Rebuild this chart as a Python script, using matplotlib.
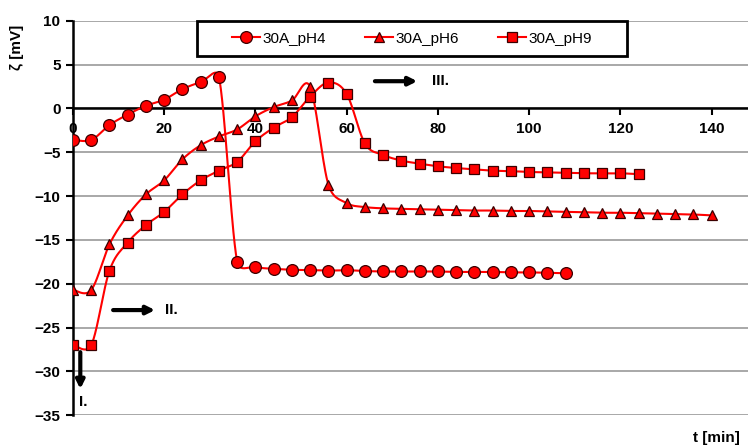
#!/usr/bin/env python3
"""Zeta potential vs time for the 30A samples at pH 4, 6 and 9."""

import matplotlib
matplotlib.use("Agg")
import matplotlib.pyplot as plt
from matplotlib.patches import Rectangle
import numpy as np

plt.rcParams['font.family'] = ['Liberation Sans', 'DejaVu Sans']

# time axis [min]
t_ph4 = np.arange(0, 109, 4)
t_ph6 = np.arange(0, 141, 4)
t_ph9 = np.arange(0, 125, 4)

zeta_ph4 = [-3.6, -3.6, -1.9, -0.7, 0.3, 1.0, 2.2, 3.0, 3.6,
            -17.5, -18.1, -18.3, -18.4, -18.45, -18.5, -18.45, -18.55, -18.6,
            -18.6, -18.6, -18.6, -18.65, -18.65, -18.65, -18.7, -18.7, -18.75, -18.8]
zeta_ph6 = [-20.7, -20.7, -15.5, -12.2, -9.8, -8.2, -5.8, -4.2, -3.2, -2.4,
            -0.9, 0.15, 0.9, 2.45, -8.7, -10.8, -11.25, -11.4, -11.45, -11.5,
            -11.55, -11.6, -11.65, -11.65, -11.7, -11.7, -11.75, -11.8, -11.85,
            -11.9, -11.9, -11.95, -12.0, -12.05, -12.1, -12.2]
zeta_ph9 = [-27.0, -27.0, -18.5, -15.3, -13.3, -11.8, -9.8, -8.2, -7.1, -6.1,
            -3.75, -2.2, -1.0, 1.35, 2.95, 1.65, -4.0, -5.3, -5.95, -6.3, -6.6,
            -6.8, -6.95, -7.1, -7.15, -7.25, -7.3, -7.35, -7.4, -7.4, -7.4, -7.5]

labels = ['30A_pH4', '30A_pH6', '30A_pH9']
markers = ['o', '^', 's']
msizes = [8.5, 6.5, 7.5]

# rough pixel scale of the axes, used to keep the smoothing in screen space
PX_X, PX_Y = 4.56, 8.8


def smooth(x, y, n=30):
    """Bezier curve through the points, tangents limited like Excel smoothing."""
    pts = np.column_stack([np.asarray(x) * PX_X, np.asarray(y) * PX_Y]).astype(float)
    pad = np.vstack([pts[0], pts, pts[-1]])
    s = np.linspace(0, 1, n)[:, None]
    out = []
    for i in range(1, len(pad) - 2):
        p0, p1, p2, p3 = pad[i - 1], pad[i], pad[i + 1], pad[i + 2]
        seg_len = np.hypot(*(p2 - p1))
        v1 = (p2 - p0) / 6.0
        v2 = (p3 - p1) / 6.0
        for v in (v1, v2):
            ln = np.hypot(*v)
            if ln > 0.6 * seg_len and ln > 0:
                v *= 0.6 * seg_len / ln
        c1 = p1 + v1
        c2 = p2 - v2
        seg = ((1 - s) ** 3 * p1 + 3 * (1 - s) ** 2 * s * c1
               + 3 * (1 - s) * s ** 2 * c2 + s ** 3 * p2)
        out.append(seg)
    out = np.vstack(out)
    return out[:, 0] / PX_X, out[:, 1] / PX_Y


fig = plt.figure(figsize=(7.48, 4.46), dpi=100)
ax = fig.add_axes([73 / 748, 30.7 / 446, 1 - 73 / 748, 394.6 / 446])

series = [(t_ph4, zeta_ph4), (t_ph6, zeta_ph6), (t_ph9, zeta_ph9)]
for (t, z), lab, mk, ms in zip(series, labels, markers, msizes):
    sx, sy = smooth(t, z)
    ax.plot(sx, sy, color='#ff0000', lw=1.5, zorder=3)
    ax.plot(t, z, ls='none', marker=mk, ms=ms, mfc='#ff0000', mec='#3a0000',
            mew=0.9, zorder=4)
    ax.plot([], [], color='#ff0000', lw=1.5, marker=mk, ms=ms, mfc='#ff0000',
            mec='#3a0000', mew=0.9, label=lab)

ax.set_xlim(0, 148)
ax.set_ylim(-35, 10)
ax.set_xticks(np.arange(0, 141, 20))
ax.set_yticks(np.arange(-35, 11, 5))
ax.yaxis.grid(True, color='#a8a8a8', lw=1.4)
ax.set_axisbelow(True)

for side in ['top', 'right']:
    ax.spines[side].set_visible(False)
ax.spines['bottom'].set_position(('data', 0))
ax.spines['bottom'].set_linewidth(1.8)
ax.spines['left'].set_linewidth(1.8)
ax.spines['bottom'].set_zorder(2)
ax.tick_params(axis='y', direction='out', length=5, width=1.5, pad=4)
ax.tick_params(axis='x', direction='out', length=5, width=1.5, pad=5)
for lbl in ax.get_xticklabels() + ax.get_yticklabels():
    lbl.set_fontweight('bold')
    lbl.set_fontsize(11)

# phase annotations
arrow = dict(arrowstyle='-|>', color='black', lw=3, mutation_scale=12,
             shrinkA=0, shrinkB=0)
ax.annotate('', xy=(75.5, 3.1), xytext=(66.2, 3.1), arrowprops=arrow)
ax.text(78.7, 3.1, 'III.', fontsize=11, fontweight='bold', va='center')
ax.annotate('', xy=(18.0, -23.0), xytext=(8.8, -23.0), arrowprops=arrow)
ax.text(20.2, -23.0, 'II.', fontsize=11, fontweight='bold', va='center')
ax.annotate('', xy=(1.6, -32.0), xytext=(1.6, -27.8), arrowprops=arrow)
ax.text(1.4, -33.5, 'I.', fontsize=11, fontweight='bold', va='center')

# legend with a hand-drawn frame
fig.patches.append(Rectangle((197 / 748, 1 - 56 / 446), 430 / 748, 35 / 446,
                             transform=fig.transFigure, fill=True,
                             facecolor='white', edgecolor='black', lw=2,
                             zorder=5))
leg = fig.legend(loc='center', bbox_to_anchor=(412 / 748, 1 - 38.5 / 446),
                 ncol=3, frameon=False, fontsize=11, handlelength=1.8,
                 handletextpad=0.15, columnspacing=2.6)
leg.set_zorder(6)

fig.text(17 / 748, 1 - 47 / 446, 'ζ [mV]', rotation=90, ha='center',
         va='center', fontsize=11, fontweight='bold')
fig.text(716 / 748, 1 - 438 / 446, 't [min]', ha='center', va='center',
         fontsize=11, fontweight='bold')

fig.savefig('out.png', dpi=100)
